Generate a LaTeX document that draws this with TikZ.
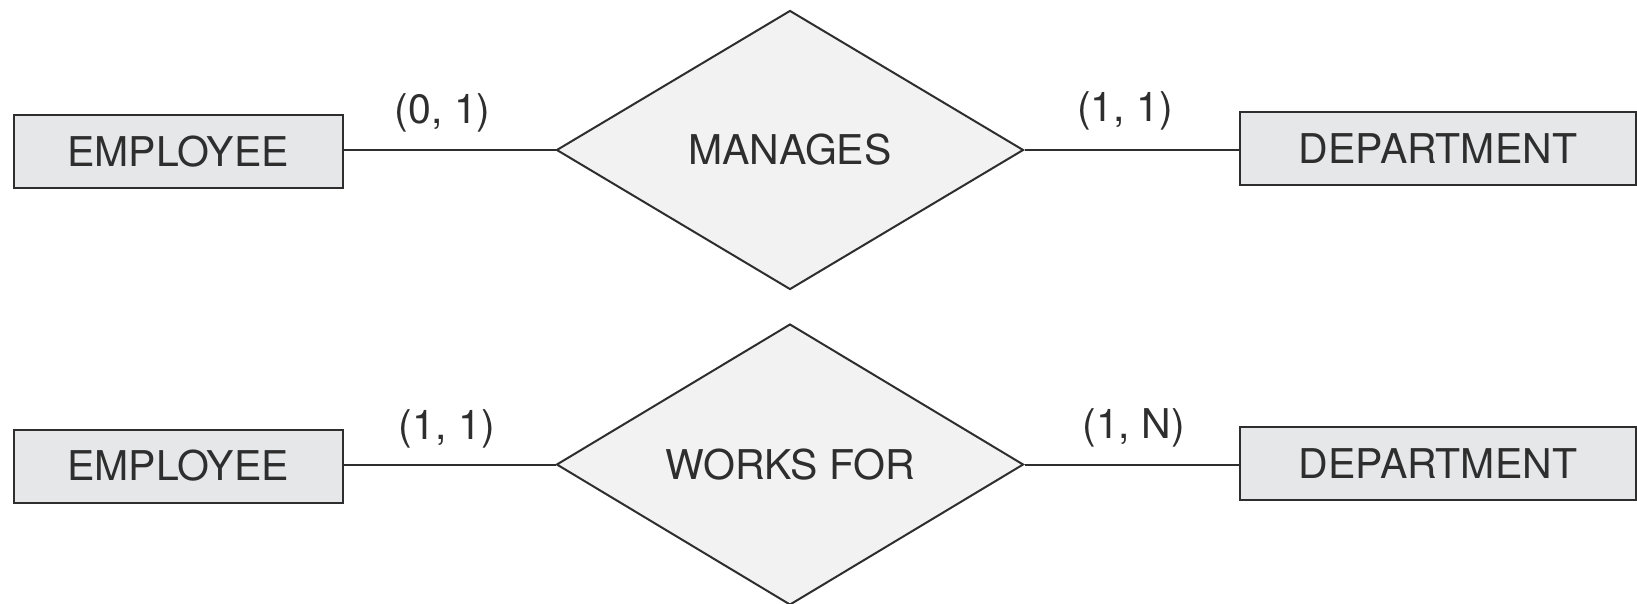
\documentclass[tikz,border=0pt]{standalone}
\usepackage{fontspec}
\setmainfont{TeX Gyre Heros}
\usetikzlibrary{shapes.geometric}
\definecolor{edge}{HTML}{2E2E2E}
\definecolor{boxfill}{HTML}{E6E7E8}
\definecolor{relfill}{HTML}{F2F2F2}
\begin{document}
\begin{tikzpicture}[x=1pt,y=-1pt,
  entity/.style={draw=edge,line width=2pt,fill=boxfill,minimum width=329pt,minimum height=73pt,inner sep=0pt,font=\fontsize{41}{45}\selectfont,text=edge},
  relation/.style={draw=edge,line width=2pt,fill=relfill,shape=diamond,minimum width=467pt,minimum height=279pt,inner sep=0pt,font=\fontsize{41}{45}\selectfont,text=edge},
  card/.style={font=\fontsize{41}{45}\selectfont,text=edge,inner sep=0pt},
  link/.style={draw=edge,line width=2pt}]
\useasboundingbox (0,0) rectangle (1637,604);
% top row
\node[entity] (e1) at (178,151.4) {EMPLOYEE};
\node[relation] (m) at (790,150) {MANAGES};
\node[entity,minimum width=396pt] (d1) at (1438,149) {DEPARTMENT};
\draw[link] (m.west) -- (m.west -| e1.east);
\draw[link] (m.east) -- (m.east -| d1.west);
\node[card] (c1) at (442.6,112.8) {(0, 1)};
\node[card] (c2) at (1125,110.7) {(1, 1)};
% bottom row
\node[entity] (e2) at (178,466) {EMPLOYEE};
\node[relation] (w) at (790,464.5) {WORKS FOR};
\node[entity,minimum width=396pt] (d2) at (1438,463.5) {DEPARTMENT};
\draw[link] (w.west) -- (w.west -| e2.east);
\draw[link] (w.east) -- (w.east -| d2.west);
\node[card] (c3) at (446.8,429) {(1, 1)};
\node[card] (c4) at (1133.7,428) {(1, N)};
\end{tikzpicture}
\end{document}
